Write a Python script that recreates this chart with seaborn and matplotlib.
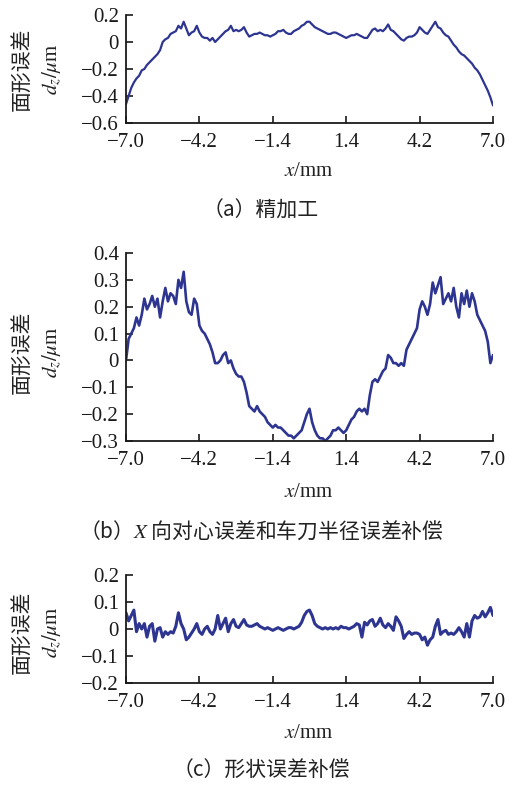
import numpy as np
import pandas as pd
import seaborn as sns
import matplotlib.pyplot as plt

sns.set_theme(style="ticks")
plt.rcParams['font.family'] = ['Liberation Serif', 'Noto Sans CJK SC', 'DejaVu Sans']
plt.rcParams['mathtext.fontset'] = 'stix'
plt.rcParams['axes.unicode_minus'] = True

# x 坐标 (mm), 步长 0.1
x_mm = np.round(np.linspace(-7.0, 7.0, 141), 1)

# (a) 精加工
dz_a = [
    -0.46, -0.40, -0.34, -0.30, -0.27, -0.25, -0.21, -0.20, -0.17, -0.15,
    -0.13, -0.11, -0.09, -0.06, 0.00, 0.02, 0.03, 0.06, 0.07, 0.08,
    0.12, 0.10, 0.15, 0.10, 0.05, 0.07, 0.08, 0.12, 0.07, 0.04,
    0.03, 0.03, 0.01, 0.03, 0.00, 0.02, 0.04, 0.06, 0.08, 0.09,
    0.12, 0.08, 0.09, 0.08, 0.09, 0.11, 0.07, 0.04, 0.05, 0.06,
    0.06, 0.07, 0.06, 0.05, 0.05, 0.04, 0.05, 0.06, 0.08, 0.08,
    0.09, 0.07, 0.06, 0.06, 0.08, 0.09, 0.10, 0.12, 0.13, 0.15,
    0.15, 0.13, 0.11, 0.10, 0.09, 0.08, 0.07, 0.06, 0.06, 0.07,
    0.07, 0.06, 0.05, 0.04, 0.03, 0.04, 0.05, 0.05, 0.06, 0.05,
    0.04, 0.03, 0.03, 0.06, 0.09, 0.10, 0.08, 0.09, 0.08, 0.10,
    0.13, 0.09, 0.08, 0.06, 0.04, 0.02, 0.01, 0.03, 0.04, 0.04,
    0.05, 0.07, 0.11, 0.09, 0.07, 0.06, 0.09, 0.12, 0.15, 0.11,
    0.10, 0.07, 0.05, 0.04, 0.01, -0.02, -0.04, -0.07, -0.09, -0.10,
    -0.12, -0.14, -0.16, -0.19, -0.21, -0.24, -0.28, -0.32, -0.36, -0.41,
    -0.47,
]

# (b) X 向对心误差和车刀半径误差补偿
dz_b = [
    0.00, 0.08, 0.10, 0.12, 0.16, 0.13, 0.17, 0.23, 0.19, 0.21,
    0.24, 0.20, 0.23, 0.16, 0.22, 0.27, 0.22, 0.25, 0.24, 0.21,
    0.30, 0.27, 0.33, 0.22, 0.18, 0.17, 0.23, 0.21, 0.13, 0.11,
    0.10, 0.08, 0.06, 0.03, -0.01, -0.01, 0.00, 0.02, 0.03, -0.01,
    0.00, -0.03, -0.05, -0.06, -0.06, -0.08, -0.12, -0.17, -0.18, -0.19,
    -0.17, -0.19, -0.20, -0.21, -0.23, -0.24, -0.25, -0.24, -0.25, -0.25,
    -0.26, -0.27, -0.28, -0.28, -0.29, -0.28, -0.27, -0.26, -0.23, -0.20,
    -0.18, -0.23, -0.26, -0.28, -0.29, -0.29, -0.30, -0.29, -0.28, -0.26,
    -0.26, -0.25, -0.26, -0.27, -0.26, -0.24, -0.22, -0.21, -0.19, -0.18,
    -0.19, -0.18, -0.20, -0.13, -0.08, -0.07, -0.08, -0.06, -0.04, -0.03,
    0.02, 0.01, -0.01, -0.01, -0.02, -0.01, -0.02, 0.04, 0.06, 0.08,
    0.10, 0.12, 0.19, 0.22, 0.20, 0.17, 0.21, 0.29, 0.25, 0.28,
    0.31, 0.21, 0.23, 0.25, 0.22, 0.27, 0.20, 0.16, 0.25, 0.21,
    0.26, 0.20, 0.25, 0.22, 0.17, 0.15, 0.13, 0.11, 0.07, -0.01,
    0.02,
]

# (c) 形状误差补偿
dz_c = [
    0.06, 0.03, 0.05, 0.07, -0.01, 0.02, 0.00, 0.02, -0.03, 0.01,
    0.02, -0.045, 0.00, 0.005, -0.03, -0.01, -0.02, -0.01, -0.015, 0.01,
    0.06, 0.02, 0.00, -0.04, -0.03, -0.015, 0.00, 0.02, -0.01, -0.02,
    0.00, 0.01, -0.01, -0.02, 0.00, 0.05, 0.00, 0.02, 0.04, -0.01,
    0.02, 0.035, 0.01, 0.005, 0.02, 0.035, 0.015, 0.01, 0.01, 0.015,
    0.02, 0.01, 0.005, 0.00, 0.005, 0.00, -0.005, 0.00, 0.005, 0.00,
    -0.005, 0.00, 0.005, 0.005, 0.00, 0.005, 0.01, 0.025, 0.05, 0.065,
    0.07, 0.05, 0.02, 0.01, 0.005, 0.00, 0.005, 0.00, 0.005, 0.00,
    0.005, 0.00, 0.01, 0.005, 0.005, 0.00, 0.005, 0.01, 0.02, 0.015,
    -0.03, 0.025, 0.015, 0.03, 0.035, 0.01, 0.02, 0.04, 0.015, 0.005,
    0.02, 0.01, -0.005, 0.045, 0.03, 0.01, -0.035, -0.02, -0.01, -0.02,
    -0.015, -0.015, -0.02, -0.04, -0.03, -0.06, -0.04, -0.03, 0.01, 0.035,
    -0.02, -0.01, -0.005, -0.02, -0.015, -0.02, -0.01, 0.005, -0.01, -0.03,
    0.02, -0.03, 0.03, 0.05, 0.04, 0.045, 0.065, 0.045, 0.06, 0.08,
    0.05,
]

x_ticks = [-7.0, -4.2, -1.4, 1.4, 4.2, 7.0]
y_ticks_a = [0.2, 0, -0.2, -0.4, -0.6]
y_ticks_b = [0.4, 0.3, 0.2, 0.1, 0, -0.1, -0.2, -0.3]
y_ticks_c = [0.2, 0.1, 0, -0.1, -0.2]

captions = ["（a）精加工", "（b）$X$ 向对心误差和车刀半径误差补偿", "（c）形状误差补偿"]

line_color = "#2d3591"
W, H = 522, 787

def fmt(v):
    if abs(v) < 1e-9:
        return "0"
    return ("%.1f" % v).replace("-", "\u2212")

fig = plt.figure(figsize=(W / 100, H / 100), dpi=100)

# 每个子图: 数据, y刻度, 轴框像素 (top, bottom), ylabel中心, xlabel, 标题, 线宽
panels = [
    (dz_a, y_ticks_a, 15, 123, 69, 172, 211, 1.6),
    (dz_b, y_ticks_b, 253, 441, 352, 493, 531, 1.9),
    (dz_c, y_ticks_c, 575, 683, 632, 733, 770, 2.2),
]

for i, (dz, yt, top, bot, yc, xl_y, cap_y, lw) in enumerate(panels):
    ax = fig.add_axes([126 / W, 1 - bot / H, (493 - 126) / W, (bot - top) / H])
    df = pd.DataFrame({"x": x_mm, "dz": dz})
    sns.lineplot(data=df, x="x", y="dz", ax=ax, color=line_color,
                 linewidth=lw, estimator=None)
    ax.set_xlim(-7.0, 7.0)
    ax.set_ylim(min(yt), max(yt))
    ax.set_xticks(x_ticks)
    ax.set_xticklabels([fmt(v) for v in x_ticks])
    ax.set_yticks(yt)
    ax.set_yticklabels([fmt(v) for v in yt])
    ax.set_xlabel("")
    ax.set_ylabel("")
    sns.despine(ax=ax)
    for s in ["left", "bottom"]:
        ax.spines[s].set_linewidth(1.3)
        ax.spines[s].set_color("#1a1a1a")
    ax.tick_params(axis="both", direction="in", length=5, width=1.2,
                   labelsize=15, colors="#1a1a1a")
    ax.tick_params(axis="x", pad=7)
    ax.tick_params(axis="y", pad=5)

    fig.text(22 / W, 1 - yc / H, "面形误差", rotation=90, ha="center", va="center",
             fontsize=15, family=["Noto Sans CJK SC", "DejaVu Sans"], color="#222222")
    fig.text(52 / W, 1 - yc / H, r"$d_z/\mu$m", rotation=90, ha="center", va="center",
             fontsize=15, color="#222222")
    fig.text(309 / W, 1 - xl_y / H, r"$x$/mm", ha="center", va="center",
             fontsize=15, color="#222222")
    fig.text(261 / W, 1 - cap_y / H, captions[i], ha="center", va="center",
             fontsize=15, family=["Noto Sans CJK SC", "DejaVu Sans"], color="#222222")

fig.savefig("out.png", dpi=100)
